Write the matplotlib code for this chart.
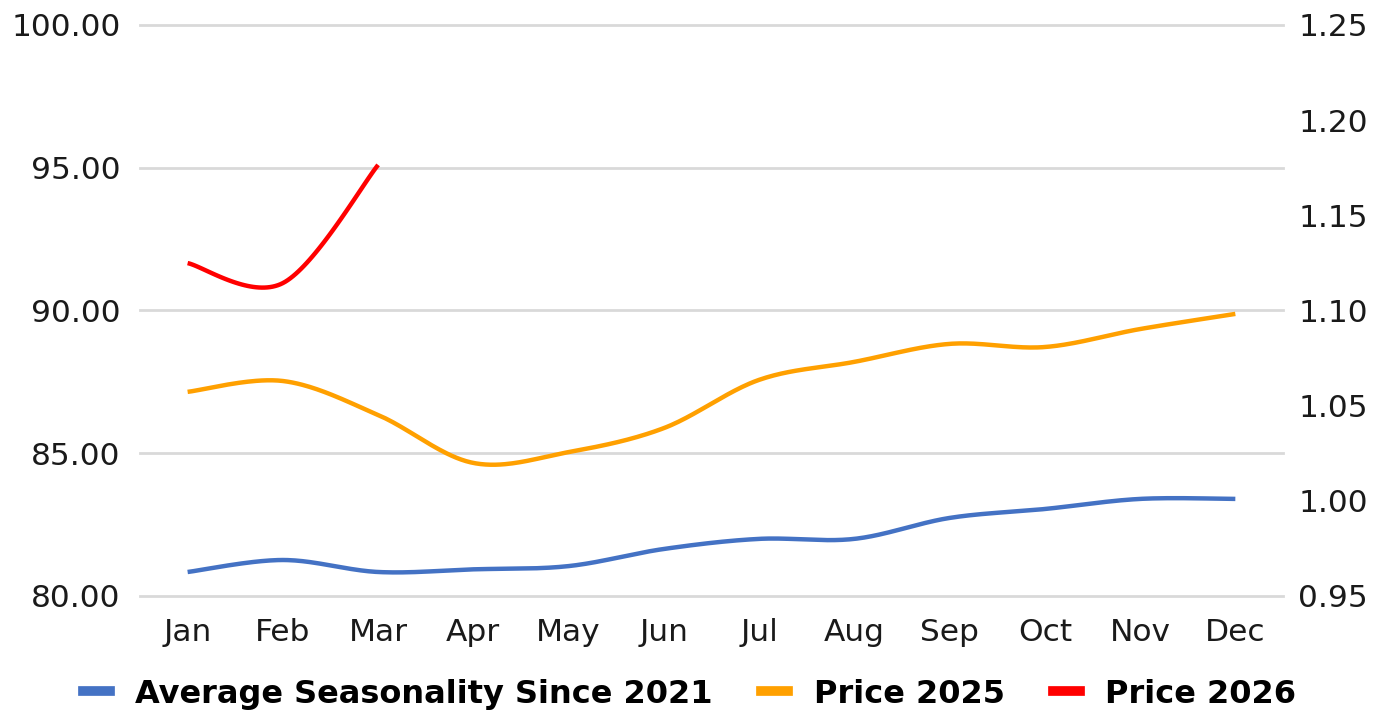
import numpy as np
import matplotlib
matplotlib.use("Agg")
import matplotlib.pyplot as plt
from matplotlib.lines import Line2D

months = ["Jan", "Feb", "Mar", "Apr", "May", "Jun", "Jul", "Aug", "Sep", "Oct", "Nov", "Dec"]
avg_seasonality = [0.9626, 0.9689, 0.9626, 0.9640, 0.9657, 0.9747, 0.9800, 0.9800, 0.9910, 0.9957, 1.0010, 1.0010]
price_2025 = [87.15, 87.53, 86.34, 84.66, 85.04, 85.88, 87.57, 88.20, 88.83, 88.72, 89.35, 89.88]
price_2026 = [91.66, 90.96, 95.10]

left_ticks = [80, 85, 90, 95, 100]
right_ticks = [0.95, 1.00, 1.05, 1.10, 1.15, 1.20, 1.25]

BLUE = "#4472C4"
ORANGE = "#FFA000"
RED = "#FF0000"
GRID = "#D9D9D9"


def smooth(xs, ys, n=40):
    xs = np.asarray(xs, float)
    ys = np.asarray(ys, float)
    if len(xs) < 3:
        return xs, ys
    px = np.concatenate([[xs[0]], xs, [xs[-1]]])
    py = np.concatenate([[ys[0]], ys, [ys[-1]]])
    outx, outy = [], []
    t = np.linspace(0, 1, n)
    for i in range(1, len(px) - 2):
        p0 = np.array([px[i - 1], py[i - 1]])
        p1 = np.array([px[i], py[i]])
        p2 = np.array([px[i + 1], py[i + 1]])
        p3 = np.array([px[i + 2], py[i + 2]])
        c1 = p1 + (p2 - p0) / 6.0
        c2 = p2 - (p3 - p1) / 6.0
        b = ((1 - t) ** 3)[:, None] * p1 + (3 * (1 - t) ** 2 * t)[:, None] * c1 \
            + (3 * (1 - t) * t ** 2)[:, None] * c2 + (t ** 3)[:, None] * p2
        outx.extend(b[:, 0])
        outy.extend(b[:, 1])
    return np.array(outx), np.array(outy)


plt.rcParams['font.family'] = ['DejaVu Sans']
fig = plt.figure(figsize=(13.93, 7.14), dpi=100)
ax = fig.add_axes([0.1005, 0.1653, 0.8205, 0.7997])
ax2 = ax.twinx()

x = np.arange(len(months))

ax.set_xlim(-0.5, len(months) - 0.5)
ax.set_ylim(80, 100)
ax2.set_ylim(0.95, 1.25)

for v in left_ticks:
    ax.axhline(v, color=GRID, lw=2, zorder=0, clip_on=False)

sx, sy = smooth(x, avg_seasonality)
ax2.plot(sx, sy, color=BLUE, lw=3.2, solid_capstyle='butt')
sx, sy = smooth(x, price_2025)
ax.plot(sx, sy, color=ORANGE, lw=3.2, solid_capstyle='butt')
sx, sy = smooth(x[:len(price_2026)], price_2026)
ax.plot(sx, sy, color=RED, lw=3.2, solid_capstyle='butt')

ax.set_xticks(x)
ax.set_xticklabels(months)
ax.set_yticks(left_ticks)
ax.set_yticklabels([f"{v:.2f}" for v in left_ticks])
ax2.set_yticks(right_ticks)
ax2.set_yticklabels([f"{v:.2f}" for v in right_ticks])

for a in (ax, ax2):
    for s in a.spines.values():
        s.set_visible(False)
    a.tick_params(length=0, labelsize=22.5, colors="#1a1a1a")
ax.tick_params(axis='x', pad=16)
ax.tick_params(axis='y', pad=14)
ax2.tick_params(axis='y', pad=11)

handles = [Line2D([0], [0], color=BLUE, lw=7),
           Line2D([0], [0], color=ORANGE, lw=7),
           Line2D([0], [0], color=RED, lw=7)]
labels = ["Average Seasonality Since 2021", "Price 2025", "Price 2026"]
fig.legend(handles, labels, loc='center', bbox_to_anchor=(0.495, 0.028), ncol=3,
           frameon=False, prop={'weight': 'bold', 'size': 23},
           handlelength=0.85, handletextpad=0.8, columnspacing=1.5)

fig.savefig("out.png", dpi=100, facecolor="white")
